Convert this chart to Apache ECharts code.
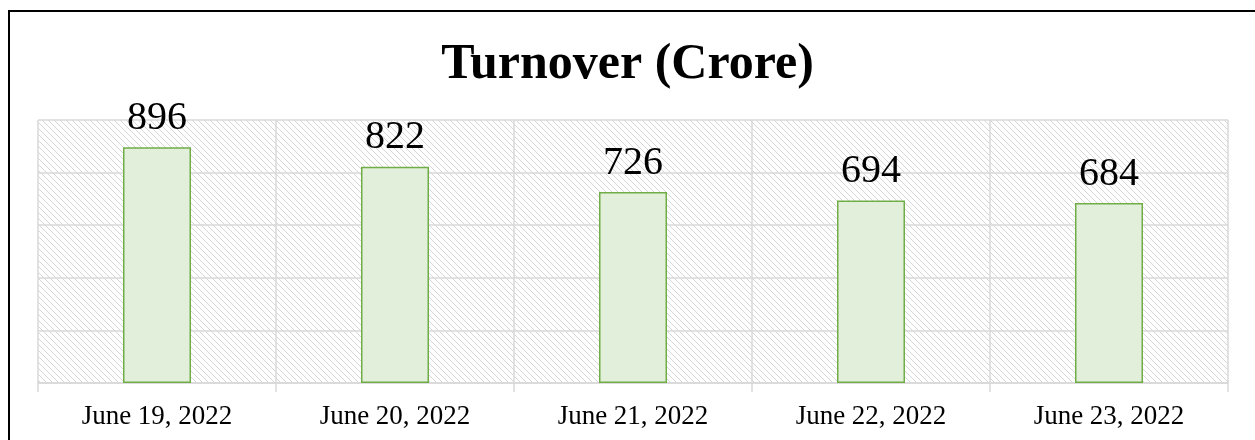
<!DOCTYPE html>
<html>
<head>
<meta charset="utf-8">
<script src="https://cdn.jsdelivr.net/npm/echarts@6/dist/echarts.min.js"></script>
<style>
  html, body { margin: 0; padding: 0; background: #fff; }
  #chart { width: 1255px; height: 440px; }
</style>
</head>
<body>
<div id="chart"></div>
<script>
const dates = ["June 19, 2022", "June 20, 2022", "June 21, 2022", "June 22, 2022", "June 23, 2022"];
const turnover = [896, 822, 726, 694, 684];

// diagonal hatch used as plot background
function hatch() {
  const c = document.createElement("canvas");
  c.width = 6;
  c.height = 6;
  const ctx = c.getContext("2d");
  ctx.fillStyle = "#fff";
  ctx.fillRect(0, 0, 6, 6);
  ctx.strokeStyle = "#d6d6d6";
  ctx.lineWidth = 1;
  ctx.beginPath();
  ctx.moveTo(-1, -1); ctx.lineTo(7, 7);
  ctx.moveTo(-4, 2); ctx.lineTo(4, 10);
  ctx.moveTo(2, -4); ctx.lineTo(10, 4);
  ctx.stroke();
  return c;
}

const chart = echarts.init(document.getElementById("chart"));
chart.setOption({
  animation: false,
  title: {
    text: "Turnover (Crore)",
    left: "center",
    top: 35,
    textStyle: {
      fontFamily: "Liberation Serif",
      fontWeight: "bold",
      fontSize: 50,
      color: "#000"
    }
  },
  graphic: [{
    type: "rect",
    shape: { x: 9, y: 11, width: 1260, height: 440 },
    style: { fill: null, stroke: "#000", lineWidth: 2 }
  }],
  grid: {
    left: 38,
    right: 27,
    top: 120,
    bottom: 57,
    show: true,
    borderWidth: 0,
    backgroundColor: { image: hatch(), repeat: "repeat" }
  },
  xAxis: {
    type: "category",
    data: dates,
    axisLine: { lineStyle: { color: "#d9d9d9", width: 1.5 } },
    axisTick: { show: true, length: 9, lineStyle: { color: "#d9d9d9", width: 1.5 } },
    splitLine: { show: true, lineStyle: { color: "#d9d9d9", width: 1.5 } },
    axisLabel: {
      fontFamily: "Liberation Serif",
      fontSize: 27,
      color: "#000",
      margin: 20
    }
  },
  yAxis: {
    type: "value",
    min: 0,
    max: 1000,
    interval: 200,
    axisLabel: { show: false },
    axisLine: { show: false },
    axisTick: { show: false },
    splitLine: { lineStyle: { color: "#d9d9d9", width: 1.5 } }
  },
  series: [{
    type: "bar",
    data: turnover,
    barWidth: 68,
    itemStyle: {
      color: "#e2efda",
      borderColor: "#70ad47",
      borderWidth: 1.5
    },
    label: {
      show: true,
      position: "top",
      distance: 9,
      fontFamily: "Liberation Serif",
      fontSize: 40,
      color: "#000"
    }
  }]
});
</script>
</body>
</html>
